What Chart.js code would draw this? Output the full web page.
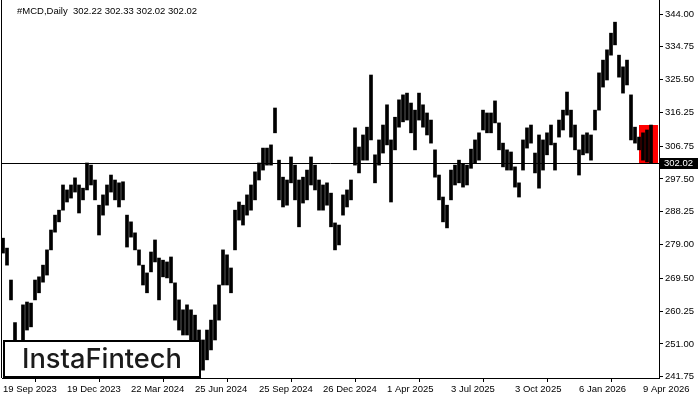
<!DOCTYPE html>
<html><head><meta charset="utf-8">
<style>html,body{margin:0;padding:0;background:#fff}canvas{display:block}</style>
<script src="https://cdn.jsdelivr.net/npm/chart.js@4.4.1/dist/chart.umd.min.js"></script>
</head><body>
<canvas id="c" width="700" height="400"></canvas>
<script>
// ---- data ----
const symbolTitle = "#MCD,Daily";
const lastOHLC = [302.22, 302.33, 302.02, 302.02];
const currentPrice = 302.02;
const barStepDays = 4; // each bar summarises 4 trading days
const highs = [
280.8,278.0,269.0,257.0,252.0,262.0,262.8,262.5,269.0,269.9,273.2,277.5,283.1,287.3,288.7,295.8,294.4,295.8,297.8,295.8,
294.9,302.0,301.4,297.2,290.1,293.0,295.8,298.6,297.2,296.4,296.7,287.3,285.4,282.3,277.5,273.2,271.0,276.9,280.3,275.2,
274.6,274.1,275.5,268.2,263.4,260.6,262.0,260.6,259.1,254.9,252.1,254.9,257.7,262.0,267.6,277.5,276.1,272.4,288.7,291.0,
290.1,293.0,295.8,299.5,302.0,306.2,306.2,307.1,317.5,302.8,298.0,297.2,303.7,301.4,297.2,298.0,300.0,303.7,301.4,297.2,
295.8,296.4,293.5,285.1,284.5,293.0,294.4,297.2,311.9,306.5,309.9,312.1,326.8,304.3,308.5,312.7,318.4,308.5,314.9,319.8,
321.2,321.7,318.9,316.9,321.7,318.4,316.1,314.1,305.7,298.6,292.4,290.1,300.0,301.4,302.8,301.9,301.4,305.9,308.5,310.5,
316.9,316.1,316.1,319.5,313.3,307.6,305.7,305.1,300.9,296.4,308.5,311.9,312.7,304.8,309.9,308.5,310.5,312.7,307.6,314.1,
316.9,322.0,316.9,312.7,305.7,309.9,310.5,309.9,316.9,327.4,331.0,333.9,338.6,341.7,332.4,329.1,331.0,321.2,312.1,309.3,
310.5,311.3,312.7
];
const lows = [
276.6,273.2,263.4,250.0,245.8,252.0,254.9,255.8,263.4,265.4,268.4,270.4,277.5,282.5,285.4,288.7,291.0,292.1,293.8,287.9,
291.6,294.4,295.8,291.6,281.7,287.3,290.1,293.8,291.6,289.6,291.6,278.3,281.1,277.5,273.2,267.6,265.4,271.3,274.1,263.4,
269.9,269.6,268.2,257.7,254.9,253.5,253.5,252.1,250.7,245.0,243.6,246.5,249.3,252.1,257.7,267.6,267.6,265.4,277.5,285.9,
284.5,287.3,288.7,291.6,297.2,300.0,301.4,301.4,310.5,291.6,289.6,290.1,296.4,291.6,284.0,290.7,291.6,295.8,294.4,288.7,
288.7,290.1,284.0,277.5,278.9,287.3,289.6,291.6,301.4,299.2,302.8,302.8,308.5,296.4,301.4,304.8,307.1,291.0,305.7,312.1,
313.6,314.1,310.5,305.7,314.1,312.1,309.9,307.6,298.0,291.6,285.4,283.7,291.6,295.8,296.4,295.2,295.8,300.5,302.0,302.8,
311.3,310.5,310.5,313.3,305.7,300.9,300.0,300.0,295.2,292.4,300.0,306.2,307.6,299.2,294.9,300.0,304.3,307.1,300.0,309.3,
311.3,315.5,309.3,305.7,298.6,304.3,304.8,302.8,311.3,316.9,323.4,325.4,332.4,335.3,326.2,321.7,324.0,308.5,307.6,305.7,
302.8,302.3,302.0
];
const yTicks = [344.00, 334.75, 325.50, 316.25, 306.75, 297.50, 288.25, 279.00, 269.50, 260.25, 251.00, 241.75];
const yMin = 241.38, yMax = 347.95;
const xTickDays = [0, 64, 128, 192, 256, 320, 384, 448, 512, 576, 640];
const xTickLabels = ["19 Sep 2023","19 Dec 2023","22 Mar 2024","25 Jun 2024","25 Sep 2024","26 Dec 2024",
                     "1 Apr 2025","3 Jul 2025","3 Oct 2025","6 Jan 2026","9 Apr 2026"];
const xMinDay = -1, xMaxDay = 656;
const patternStartDay = 636, patternEndDay = 655, patternHigh = 312.7, patternLow = 302.0;
const logoText = "InstaFintech";

// ---- chart ----
const FONT = '"Liberation Sans", Arial, sans-serif';
const bars = highs.map((h, i) => ({ x: i * barStepDays, y: [lows[i], h] }));

const overlay = {
  id: 'overlay',
  beforeDatasetsDraw(chart) {
    const { ctx, scales: { x, y } } = chart;
    const l = Math.round(x.getPixelForValue(patternStartDay));
    const r = Math.round(x.getPixelForValue(patternEndDay));
    const t = Math.round(y.getPixelForValue(patternHigh));
    const b = Math.round(y.getPixelForValue(patternLow));
    ctx.save();
    ctx.fillStyle = '#ff0000';
    ctx.fillRect(l, t, r - l, b - t);
    ctx.restore();
  },
  afterDatasetsDraw(chart) {
    const { ctx, chartArea: a, scales: { y } } = chart;
    const py = Math.round(y.getPixelForValue(currentPrice)) + 0.5;
    ctx.save();
    ctx.strokeStyle = '#000'; ctx.lineWidth = 1;
    ctx.beginPath(); ctx.moveTo(a.left, py); ctx.lineTo(a.right, py); ctx.stroke();
    ctx.restore();
  },
  afterDraw(chart) {
    const { ctx, chartArea: a, scales: { y } } = chart;
    ctx.save();
    ctx.fillStyle = '#000';
    ctx.fillRect(a.left - 1, 0, 1, a.bottom);
    ctx.font = '9.5px ' + FONT;
    ctx.textBaseline = 'middle'; ctx.textAlign = 'left';
    ctx.fillStyle = '#000';
    ctx.fillText(symbolTitle + '  ' + lastOHLC.map(v => v.toFixed(2)).join(' '), 17, 11);
    const py = Math.round(y.getPixelForValue(currentPrice));
    ctx.fillStyle = '#000';
    ctx.fillRect(a.right + 1, py - 5, 38, 11);
    ctx.fillStyle = '#fff';
    ctx.fillText(currentPrice.toFixed(2), a.right + 5, py + 0.5);
    ctx.fillStyle = '#fff';
    ctx.fillRect(3, 340, 198, 38);
    ctx.strokeStyle = '#000'; ctx.lineWidth = 2;
    ctx.strokeRect(4, 341, 196, 36);
    let fs = 25;
    ctx.font = '500 ' + fs + 'px Inter, "Open Sans", sans-serif';
    const w = ctx.measureText(logoText).width;
    fs = fs * 160 / w;
    ctx.font = '500 ' + fs.toFixed(2) + 'px Inter, "Open Sans", sans-serif';
    ctx.fillStyle = '#1b1b1b';
    ctx.textAlign = 'center'; ctx.textBaseline = 'middle';
    ctx.fillText(logoText, 102, 360);
    ctx.restore();
  }
};

new Chart(document.getElementById('c'), {
  type: 'bar',
  data: {
    datasets: [{
      data: bars,
      backgroundColor: '#000',
      borderWidth: 0,
      barThickness: 3,
      grouped: false
    }]
  },
  options: {
    responsive: false,
    animation: false,
    devicePixelRatio: 1,
    layout: { padding: { left: 2, right: 0, top: 0, bottom: 0 } },
    plugins: { legend: { display: false }, tooltip: { enabled: false }, title: { display: false } },
    scales: {
      x: {
        type: 'linear', min: xMinDay, max: xMaxDay, offset: false,
        afterBuildTicks(s) { s.ticks = xTickDays.map(v => ({ value: v })); },
        afterFit(s) { s.height = 22; s.paddingLeft = 0; s.paddingRight = 0; },
        grid: { drawOnChartArea: false, drawTicks: true, tickLength: 4, color: '#000' },
        border: { display: true, color: '#000', width: 1 },
        ticks: {
          autoSkip: false, maxRotation: 0, align: 'start', padding: 2, color: '#000',
          font: { family: FONT, size: 9.5 },
          callback(v) { const i = xTickDays.indexOf(v); return i >= 0 ? xTickLabels[i] : ''; }
        }
      },
      y: {
        type: 'linear', position: 'right', min: yMin, max: yMax,
        afterBuildTicks(s) { s.ticks = yTicks.map(v => ({ value: v })); },
        afterFit(s) { s.width = 41; s.paddingTop = 0; s.paddingBottom = 0; },
        grid: { drawOnChartArea: false, drawTicks: true, tickLength: 4, color: '#000' },
        border: { display: true, color: '#000', width: 1 },
        ticks: {
          autoSkip: false, padding: 2, color: '#000',
          font: { family: FONT, size: 9.5 },
          callback(v) { return Number(v).toFixed(2); }
        }
      }
    }
  },
  plugins: [overlay]
});
</script>
</body></html>
